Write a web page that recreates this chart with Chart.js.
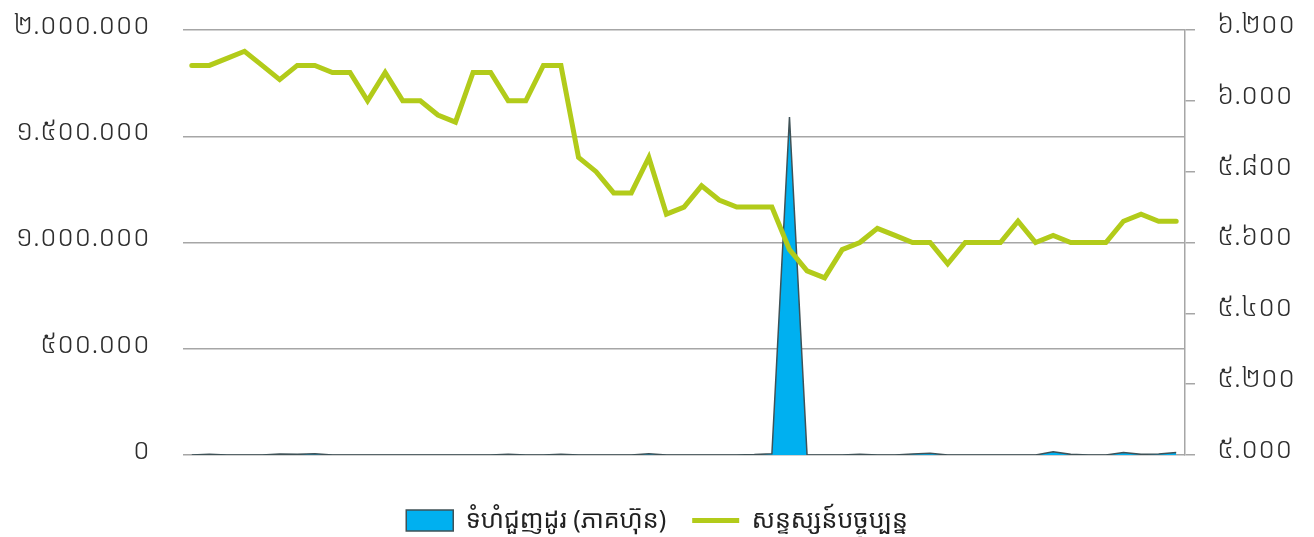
<!DOCTYPE html>
<html>
<head>
<meta charset="utf-8">
<script src="https://cdn.jsdelivr.net/npm/chart.js@4.4.1/dist/chart.umd.min.js"></script>
<style>
  html, body { margin: 0; padding: 0; background: #ffffff; }
  #wrap { width: 1314px; height: 537px; }
</style>
</head>
<body>
<div id="wrap"><canvas id="c" width="1314" height="537"></canvas></div>
<script>
// Trading sessions (57 consecutive days)
const sessions = Array.from({ length: 57 }, (_, i) => 'D' + (i + 1));

// Trading volume (shares)
const volume = [
  0, 4000, 0, 0, 0, 5000, 3000, 6000, 0, 0,
  0, 0, 0, 0, 0, 0, 0, 0, 4000, 0,
  0, 4000, 0, 0, 0, 0, 6000, 0, 0, 0,
  0, 0, 2000, 6000, 1590000, 0, 0, 0, 4000, 0,
  0, 5000, 8000, 0, 0, 0, 0, 0, 0, 15000,
  3000, 0, 0, 12000, 3000, 5000, 12000
];

// Current index level
const indexLevel = [
  6100, 6100, 6120, 6140, 6100, 6060, 6100, 6100, 6080, 6080,
  6000, 6080, 6000, 6000, 5960, 5940, 6080, 6080, 6000, 6000,
  6100, 6100, 5840, 5800, 5740, 5740, 5840, 5680, 5700, 5760,
  5720, 5700, 5700, 5700, 5580, 5520, 5500, 5580, 5600, 5640,
  5620, 5600, 5600, 5540, 5600, 5600, 5600, 5660, 5600, 5620,
  5600, 5600, 5600, 5660, 5680, 5660, 5660
];

// Axis tick labels (Khmer numerals)
const volumeTicks = { 0: '០', 500000: '៥០០.០០០', 1000000: '១.០០០.០០០', 1500000: '១.៥០០.០០០', 2000000: '២.០០០.០០០' };
const indexTicks = { 5000: '៥.០០០', 5200: '៥.២០០', 5400: '៥.៤០០', 5600: '៥.៦០០', 5800: '៥.៨០០', 6000: '៦.០០០', 6200: '៦.២០០' };

const seriesNames = ['ទំហំជួញដូរ (ភាគហ៊ុន)', 'សន្ទស្សន៍បច្ចុប្បន្ន'];

const FONT = "'Noto Sans Khmer', 'Khmer OS', 'Noto Sans', 'DejaVu Sans', sans-serif";
const GRID = '#a6a6a6';
const BLUE = '#00b0f0';
const EDGE = '#3f5257';
const GREEN = '#b2cb1a';
const TICK_TEXT = '#2e2e2e';

// Value axes keep the plot edges where the layout puts them (no extra label overhang)
const fixVertical = (width) => (s) => {
  s.width = width;
  s.paddingTop = 0;
  s.paddingBottom = 0;
};

new Chart(document.getElementById('c'), {
  type: 'line',
  data: {
    labels: sessions,
    datasets: [
      {
        label: seriesNames[1],
        data: indexLevel,
        yAxisID: 'y1',
        borderColor: GREEN,
        backgroundColor: GREEN,
        borderWidth: 5,
        borderCapStyle: 'round',
        pointRadius: 0,
        tension: 0,
        fill: false,
        order: 0
      },
      {
        label: seriesNames[0],
        data: volume,
        yAxisID: 'y',
        borderColor: EDGE,
        backgroundColor: BLUE,
        borderWidth: 1.5,
        pointRadius: 0,
        tension: 0,
        fill: 'origin',
        order: 1
      }
    ]
  },
  options: {
    responsive: false,
    animation: false,
    events: [],
    layout: { padding: { top: 30, bottom: -6, left: 0, right: 0 } },
    plugins: {
      tooltip: { enabled: false },
      legend: {
        position: 'bottom',
        labels: {
          font: { family: FONT, size: 25 },
          color: '#222222',
          padding: 26,
          usePointStyle: true,
          pointStyleWidth: 47,
          boxHeight: 21,
          generateLabels: (chart) => {
            const ds = chart.data.datasets;
            return [
              { text: ds[1].label, fillStyle: BLUE, strokeStyle: EDGE, lineWidth: 1.5, pointStyle: 'rect', datasetIndex: 1, fontColor: '#222222' },
              { text: ds[0].label, fillStyle: GREEN, strokeStyle: GREEN, lineWidth: 5, pointStyle: 'line', datasetIndex: 0, fontColor: '#222222' }
            ];
          }
        }
      }
    },
    scales: {
      x: {
        type: 'category',
        offset: true,
        grid: { display: false },
        border: { display: false },
        ticks: { display: false },
        afterFit: (s) => { s.height = 27; }
      },
      y: {
        position: 'left',
        min: 0,
        max: 2000000,
        ticks: {
          stepSize: 500000,
          padding: 33,
          labelOffset: -4,
          color: TICK_TEXT,
          font: { family: FONT, size: 28, weight: 300 },
          callback: (v) => volumeTicks[v]
        },
        grid: { color: GRID, lineWidth: 1.5, drawTicks: false },
        border: { display: false },
        afterFit: fixVertical(183)
      },
      y1: {
        position: 'right',
        min: 5000,
        max: 6200,
        ticks: {
          stepSize: 200,
          padding: 22,
          labelOffset: -5,
          color: TICK_TEXT,
          font: { family: FONT, size: 28, weight: 300 },
          callback: (v) => indexTicks[v]
        },
        grid: { drawOnChartArea: false, color: GRID, lineWidth: 1.5, tickLength: 10 },
        border: { display: true, color: GRID, width: 1.5 },
        afterFit: fixVertical(1314 - 1185)
      }
    }
  }
});
</script>
</body>
</html>
